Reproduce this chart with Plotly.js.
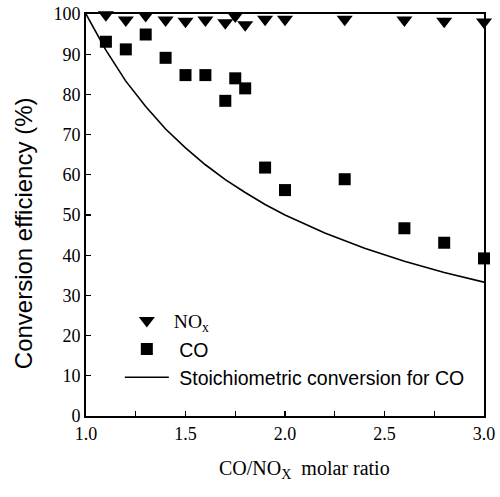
<!DOCTYPE html>
<html>
<head>
<meta charset="utf-8">
<script src="https://cdn.plot.ly/plotly-3.0.1.min.js"></script>
<style>html,body{margin:0;padding:0;background:#fff;}#chart{width:500px;height:497px;}</style>
</head>
<body>
<div id="chart"></div>
<script>
// CO/NOx molar ratio for measured points
const ratioMeasured = [1.1, 1.2, 1.3, 1.4, 1.5, 1.6, 1.7, 1.75, 1.8, 1.9, 2.0, 2.3, 2.6, 2.8, 3.0];
// NOx conversion efficiency (%)
const noxEff = [99.8, 98.5, 99.6, 98.5, 98.2, 98.5, 97.8, 99.5, 97.3, 98.7, 98.7, 98.7, 98.5, 98.2, 98.0];
// CO conversion efficiency (%)
const coEff = [93.1, 91.2, 94.9, 89.1, 84.8, 84.8, 78.4, 84.0, 81.5, 61.8, 56.2, 58.9, 46.7, 43.1, 39.2];
// Stoichiometric conversion curve for CO
const ratioStoich = [1.0, 1.1, 1.2, 1.3, 1.4, 1.5, 1.6, 1.7, 1.8, 1.9, 2.0, 2.2, 2.4, 2.6, 2.8, 3.0];
const stoichEff = [100, 91, 83.3, 77, 71.4, 66.7, 62.5, 58.8, 55.6, 52.6, 50, 45.5, 41.7, 38.5, 35.7, 33.3];
// tick labels
const xTickVals = [1.0, 1.5, 2.0, 2.5, 3.0];
const xTickText = ['1.0', '1.5', '2.0', '2.5', '3.0'];
const yTickVals = [0, 10, 20, 30, 40, 50, 60, 70, 80, 90, 100];
const xTitle = 'CO/NO<sub>X</sub>  molar ratio';
const yTitle = 'Conversion efficiency (%)';

const serif = 'Liberation Serif, Times New Roman, serif';
const sans = 'Liberation Sans, Arial, sans-serif';

const traces = [
  {
    x: ratioMeasured, y: noxEff, type: 'scatter', mode: 'markers',
    name: '<span style="font-family:Liberation Serif">NO<sub>x</sub></span>',
    marker: {symbol: 'triangle-down', size: 14, color: '#000'},
    cliponaxis: false
  },
  {
    x: ratioMeasured, y: coEff, type: 'scatter', mode: 'markers',
    name: '\u00a0CO',
    marker: {symbol: 'square', size: 12, color: '#000'},
    cliponaxis: false
  },
  {
    x: ratioStoich, y: stoichEff, type: 'scatter', mode: 'lines',
    name: '\u00a0Stoichiometric conversion for CO',
    line: {color: '#000', width: 1.6}
  }
];

const layout = {
  width: 500, height: 497,
  margin: {l: 86, r: 16, t: 14, b: 81},
  paper_bgcolor: '#fff', plot_bgcolor: '#fff',
  showlegend: true,
  legend: {
    x: 0.085, y: 0.285, xanchor: 'left', yanchor: 'top',
    bgcolor: 'rgba(0,0,0,0)', borderwidth: 0,
    font: {family: sans, size: 19.5, color: '#000'},
    itemwidth: 44, tracegroupgap: 0
  },
  xaxis: {
    range: [1.0, 3.0],
    tickvals: xTickVals, ticktext: xTickText,
    ticks: 'inside', ticklen: 5, tickwidth: 1.2, tickcolor: '#000',
    minor: {dtick: 0.25, ticks: 'inside', ticklen: 5, tickwidth: 1.2, tickcolor: '#000', showgrid: false},
    showline: true, linecolor: '#000', linewidth: 2, mirror: true,
    showgrid: false, zeroline: false,
    tickfont: {family: serif, size: 18, color: '#000'}
  },
  yaxis: {
    range: [0, 100],
    tickvals: yTickVals,
    ticks: 'inside', ticklen: 5, tickwidth: 1.2, tickcolor: '#000',
    showline: true, linecolor: '#000', linewidth: 2, mirror: true,
    showgrid: false, zeroline: false,
    tickfont: {family: serif, size: 18, color: '#000'}
  },
  annotations: [
    {
      text: xTitle, xref: 'paper', yref: 'paper', x: 0.548, y: -0.134,
      xanchor: 'center', yanchor: 'middle', showarrow: false,
      font: {family: serif, size: 20, color: '#000'}
    },
    {
      text: yTitle, xref: 'paper', yref: 'paper', x: -0.158, y: 0.455,
      xanchor: 'center', yanchor: 'middle', showarrow: false, textangle: -90,
      font: {family: sans, size: 24, color: '#000'}
    }
  ]
};

Plotly.newPlot('chart', traces, layout, {displayModeBar: false, staticPlot: true});
</script>
</body>
</html>
